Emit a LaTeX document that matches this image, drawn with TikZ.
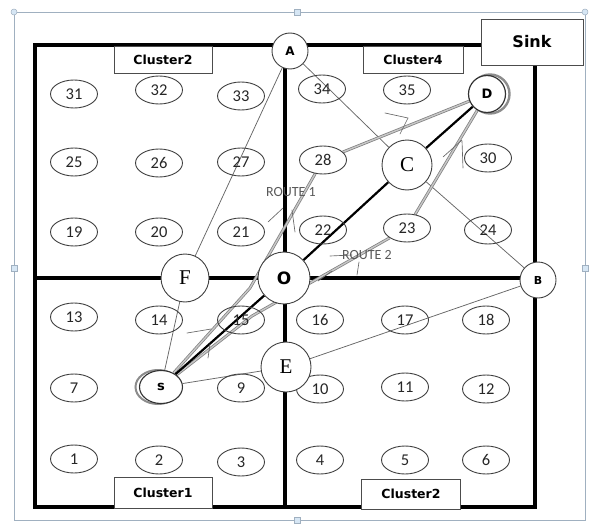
\documentclass[tikz,border=0pt]{standalone}
\usepackage{fontspec}
\setmainfont{Liberation Serif}
\newfontfamily\numfont{Carlito}
\newfontfamily\heavysans{DejaVu Sans}
\usetikzlibrary{shapes.geometric}
\pgfdeclarelayer{background}
\pgfdeclarelayer{links}
\pgfsetlayers{background,links,main}
\definecolor{framegray}{RGB}{160,176,192}
\definecolor{handleblue}{RGB}{214,230,244}
\tikzset{
  cell/.style={ellipse, draw=black!75, line width=0.9pt, minimum width=47pt,
    minimum height=28pt, inner sep=0pt, text=black!85,
    font=\numfont\fontsize{16.5}{16.5}\selectfont},
  hub/.style={circle, draw=black!75, line width=0.9pt, fill=white, inner sep=0pt},
  serifhub/.style={hub, font=\fontsize{21}{21}\selectfont},
  sanshub/.style={hub, font=\heavysans\bfseries\fontsize{12}{12}\selectfont},
  clusterbox/.style={draw=black!70, line width=0.8pt, fill=white, inner sep=0pt,
    font=\heavysans\bfseries\fontsize{12.5}{12.5}\selectfont},
  wall/.style={line width=4.2pt, black, line cap=rect, line join=miter},
  thinlink/.style={black!60, line width=0.75pt},
  mainroute/.style={black, line width=2.2pt},
  route/.style={draw=black!50, double=black!22, double distance=1.4pt, line width=0.75pt},
  pen/.style={black!60, line width=0.65pt, line cap=round},
  routetext/.style={text=black!65, inner sep=0pt, font=\numfont\fontsize{14}{14}\selectfont},
  handle/.style={draw=framegray, fill=handleblue, line width=0.5pt}
}
\begin{document}
\begin{tikzpicture}[x=1pt,y=-1pt]
\useasboundingbox (0,0) rectangle (591,524);

% selection frame with handles
\begin{pgfonlayer}{background}
\draw[framegray, line width=0.8pt] (14,12) rectangle (585,520);
\foreach \hx/\hy in {297/12, 297/520, 14/268, 585/268}
  \draw[handle] (\hx-3,\hy-3) rectangle (\hx+3,\hy+3);
\foreach \hx/\hy in {14/12, 585/12}
  \draw[handle] (\hx,\hy) circle (3);

% field walls
\draw[wall] (481,45) -- (35,45) -- (35,507) -- (535,507) -- (535,65);
\draw[wall] (285,45) -- (285,507);
\draw[wall] (35,278) -- (535,278);
\end{pgfonlayer}

% sink and cluster tags
\node[clusterbox, minimum width=102pt, minimum height=46pt,
      font=\heavysans\bfseries\fontsize{16}{16}\selectfont] (sink) at (532,42) {Sink};
\node[clusterbox, minimum width=98pt, minimum height=27pt] (tagA) at (163,60) {Cluster2};
\node[clusterbox, minimum width=100pt, minimum height=27pt] (tagB) at (413,60) {Cluster4};
\node[clusterbox, minimum width=98pt, minimum height=31pt] (tagC) at (163,493) {Cluster1};
\node[clusterbox, minimum width=99pt, minimum height=30pt] (tagD) at (411,494) {Cluster2};

% sensor nodes
\node[cell] (n31) at (74,94) {31};
\node[cell] (n32) at (159,90) {32};
\node[cell] (n33) at (241,96) {33};
\node[cell] (n25) at (74,162) {25};
\node[cell] (n26) at (159,163) {26};
\node[cell] (n27) at (241,162) {27};
\node[cell] (n19) at (74,232) {19};
\node[cell] (n20) at (159,232) {20};
\node[cell] (n21) at (241,232) {21};
\node[cell] (n34) at (322,89) {34};
\node[cell] (n35) at (407,90) {35};
\node[cell] (n28) at (323,160) {28};
\node[cell] (n30) at (488,158) {30};
\node[cell] (n22) at (323,230) {22};
\node[cell] (n23) at (407,228) {23};
\node[cell] (n24) at (488,230) {24};
\node[cell] (n13) at (74,317) {13};
\node[cell] (n14) at (159,320) {14};
\node[cell] (n15) at (241,320) {15};
\node[cell] (n7) at (74,388) {7};
\node[cell] (n9) at (241,388) {9};
\node[cell] (n1) at (74,459) {1};
\node[cell] (n2) at (159,460) {2};
\node[cell] (n3) at (241,462) {3};
\node[cell] (n16) at (320,320) {16};
\node[cell] (n17) at (405,320) {17};
\node[cell] (n18) at (486,320) {18};
\node[cell] (n10) at (320,389) {10};
\node[cell] (n11) at (405,387) {11};
\node[cell] (n12) at (486,389) {12};
\node[cell] (n4) at (320,460) {4};
\node[cell] (n5) at (405,460) {5};
\node[cell] (n6) at (486,460) {6};

% source and destination with their outer rings
\draw[black!45, line width=2.4pt] (490,94) circle (19.5);
\node[hub, draw=black!80, line width=1.2pt, minimum size=37pt,
      font=\heavysans\bfseries\fontsize{13}{13}\selectfont] (D) at (487,94) {D};
\draw[black!45, line width=2pt] (158,387) ellipse (22.5 and 17);
\node[ellipse, draw=black!80, line width=1.1pt, fill=white, inner sep=0pt,
      minimum width=43pt, minimum height=33pt,
      font=\heavysans\bfseries\fontsize{13}{13}\selectfont] (S) at (161,387) {s};

% relay points
\node[sanshub, minimum size=36pt] (A) at (290,51) {A};
\node[sanshub, minimum size=36pt, font=\heavysans\bfseries\fontsize{11}{11}\selectfont] (B) at (538,280) {B};
\node[serifhub, minimum size=48pt] (F) at (185,278) {F};
\node[sanshub, minimum size=52pt, font=\heavysans\bfseries\fontsize{17}{17}\selectfont] (O) at (284,278) {O};
\node[serifhub, minimum size=50pt] (E) at (286,367) {E};
\node[serifhub, minimum size=50pt] (C) at (407,165) {C};

% bends of the two alternative routes
\coordinate (bendone) at (250,288);
\coordinate (bendtwo) at (252,316);

\begin{pgfonlayer}{links}
\draw[thinlink] (A) -- (F) -- (S);
\draw[thinlink] (A) -- (C) -- (B);
\draw[thinlink] (S) -- (E) -- (B);
\draw[route] (S) -- (bendone) -- (n28);
\draw[route] (n28) -- (D);
\draw[route] (S) -- (bendtwo) -- (n23);
\draw[route] (n23) -- (D);
\draw[mainroute] (S) -- (O) -- (C) -- (D);

% hand-drawn direction marks
\draw[pen] (187,333) -- (211,329);
\draw[pen] (208,358) -- (210,344);
\draw[pen] (268,222) -- (283,208);
\draw[pen] (295,232) -- (292,210);
\draw[pen] (385,113) -- (408,118);
\draw[pen] (400,134) -- (408,118);
\draw[pen] (443,157) -- (462,140);
\draw[pen] (463,168) -- (462,141);
\draw[pen] (330,256) -- (352,255);
\draw[pen] (357,275) -- (359,262);
\draw[pen] (318,281) -- (332,271);
\end{pgfonlayer}

% route captions
\node[routetext] (capone) at (291,192) {ROUTE 1};
\node[routetext] (captwo) at (367,255) {ROUTE 2};
\end{tikzpicture}
\end{document}
